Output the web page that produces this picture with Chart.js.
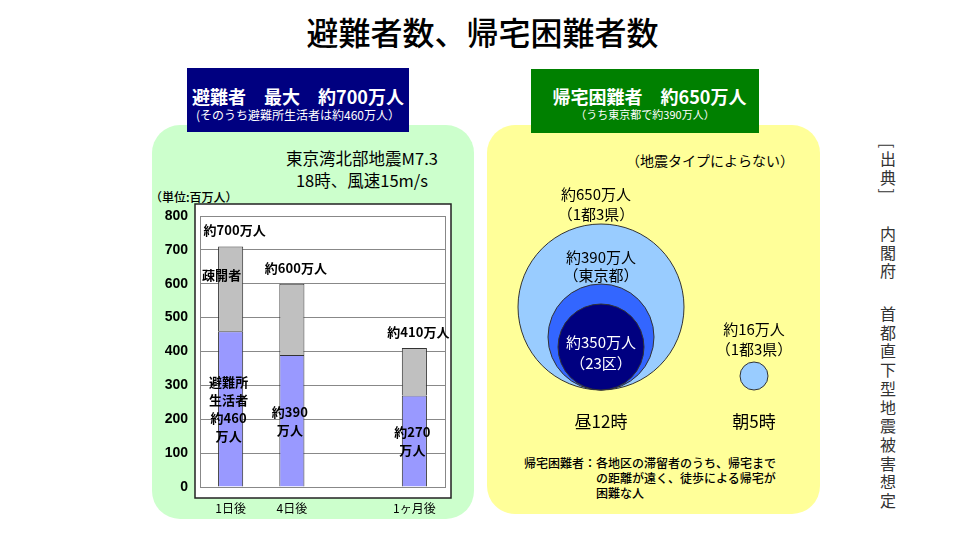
<!DOCTYPE html>
<html lang="ja">
<head>
<meta charset="utf-8">
<title>避難者数、帰宅困難者数</title>
<script src="https://cdn.jsdelivr.net/npm/chart.js@4.4.1/dist/chart.umd.min.js"></script>
<style>
body { margin: 0; background: #fff; }
#slide { position: relative; width: 960px; height: 540px; overflow: hidden; font-family: "Noto Sans CJK JP", sans-serif; color: #000; }
.abs { position: absolute; white-space: nowrap; }
.panel { position: absolute; border-radius: 28px; }
.box { position: absolute; color: #fff; text-align: center; }
.vert { position: absolute; writing-mode: vertical-rl; font-size: 16px; letter-spacing: 2.7px; line-height: 1; color: #333; }
canvas { position: absolute; }
</style>
</head>
<body>
<div id="slide">
  <div class="abs" style="left:0;top:11px;width:965px;text-align:center;font-size:32px;line-height:40px;font-weight:500;">避難者数、帰宅困難者数</div>

  <div class="panel" style="left:152px;top:125px;width:322px;height:394px;background:#ccffcc;"></div>
  <div class="panel" style="left:487px;top:125px;width:333px;height:389px;background:#ffff99;"></div>

  <div class="box" style="left:187px;top:68px;width:222px;height:64px;background:#000080;">
    <div style="margin-top:17px;font-size:18px;line-height:22px;font-weight:bold;">避難者　最大　約700万人</div>
    <div style="font-size:12px;line-height:15px;">(そのうち避難所生活者は約460万人）</div>
  </div>
  <div class="box" style="left:531px;top:69px;width:228px;height:64px;background:#008000;">
    <div style="margin-top:16px;padding-left:9px;font-size:18px;line-height:22px;font-weight:bold;">帰宅困難者　約650万人</div>
    <div style="font-size:11px;line-height:15px;">（うち東京都で約390万人）</div>
  </div>

  <div class="abs" style="left:262px;top:147px;width:200px;text-align:center;font-size:16.5px;line-height:22px;">東京湾北部地震M7.3<br>18時、風速15m/s</div>
  <div class="abs" style="left:150px;top:189px;font-size:12px;line-height:16px;font-weight:500;">（単位:百万人）</div>

  <div class="abs" style="left:610px;top:150px;width:200px;text-align:center;font-size:14px;line-height:20px;">（地震タイプによらない）</div>
  <div class="abs" style="left:524px;top:455px;font-size:12px;line-height:15px;font-weight:500;">帰宅困難者：各地区の滞留者のうち、帰宅まで<br><span style="padding-left:72px">の距離が遠く、徒歩による帰宅が</span><br><span style="padding-left:72px">困難な人</span></div>

  <div class="vert" style="left:880px;top:143px;">[出典]</div>
  <div class="vert" style="left:880px;top:226px;">内閣府</div>
  <div class="vert" style="left:880px;top:306px;">首都直下型地震被害想定</div>

  <canvas id="barChart" width="321" height="330" style="left:152px;top:190px;"></canvas>
  <canvas id="bubbleChart" width="380" height="470" style="left:487px;top:45px;"></canvas>
</div>

<script>
// 避難者 (百万人単位の目盛、値は万人)
const periods = ['1日後', '4日後', '', '1ヶ月後'];
const shelterLiving = [460, 390, null, 270];
const evacuated = [250, 210, null, 140];
const totalLabels = ['約700万人', '約600万人', '', '約410万人'];
const shelterLabels = [['避難所', '生活者', '約460', '万人'], ['約390', '万人'], [], ['約270', '万人']];
const evacLabels = ['疎開者', '', '', ''];

// 帰宅困難者
const timeSlots = ['昼12時', '朝5時'];
const stranded = [650, 390, 350, 16];
const strandedTime = ['昼12時', '昼12時', '昼12時', '朝5時'];
const bubbleR = [83, 53, 43, 14];
const strandedLabels = [['約650万人', '（1都3県）'], ['約390万人', '（東京都）'], ['約350万人', '（23区）'], ['約16万人', '（1都3県）']];

const jp = '"Noto Sans CJK JP", sans-serif';

const framePlugin = {
    id: 'frame',
    beforeDraw(chart) {
        const { ctx, chartArea: a } = chart;
        ctx.save();
        ctx.fillStyle = '#fff';
        ctx.fillRect(a.left - 5, a.top - 12, a.width + 11, a.height + 23);
        ctx.strokeStyle = '#222';
        ctx.lineWidth = 1.5;
        ctx.strokeRect(a.left - 5, a.top - 12, a.width + 11, a.height + 23);
        ctx.restore();
    },
    beforeDatasetsDraw(chart) {
        const { ctx, chartArea: a } = chart;
        ctx.save();
        ctx.strokeStyle = '#888';
        ctx.lineWidth = 1;
        ctx.strokeRect(a.left + 0.5, a.top + 0.5, a.width, a.height);
        ctx.restore();
    }
};

const barLabelPlugin = {
    id: 'barLabels',
    afterDatasetsDraw(chart) {
        const ctx = chart.ctx;
        const low = chart.getDatasetMeta(0).data;
        const high = chart.getDatasetMeta(1).data;
        ctx.save();
        ctx.font = 'bold 13px ' + jp;
        ctx.fillStyle = '#000';
        ctx.textAlign = 'center';
        ctx.textBaseline = 'middle';
        periods.forEach((p, i) => {
            if (shelterLiving[i] == null) return;
            const b = low[i], t = high[i];
            ctx.fillText(totalLabels[i], t.x + 4, t.y - 16);
            if (evacLabels[i]) ctx.fillText(evacLabels[i], t.x - 9, t.y + 29);
            const lines = shelterLabels[i];
            const mid = (b.y + b.base) / 2;
            lines.forEach((s, k) => {
                ctx.fillText(s, b.x - 2, mid + (k - (lines.length - 1) / 2) * 18);
            });
        });
        ctx.restore();
    }
};

const circleLabelPlugin = {
    id: 'circleLabels',
    afterDatasetsDraw(chart) {
        const ctx = chart.ctx;
        const pts = chart.getDatasetMeta(0).data;
        const offs = [[-30, -10], [-27, -9], [-5, 16], [-33, -13]];
        ctx.save();
        ctx.font = '15px ' + jp;
        ctx.textAlign = 'center';
        ctx.textBaseline = 'middle';
        pts.forEach((el, i) => {
            const inside = i === 2;
            const ref = inside ? el.y : el.y - bubbleR[i];
            ctx.fillStyle = inside ? '#fff' : '#000';
            strandedLabels[i].forEach((s, k) => ctx.fillText(s, el.x + (i === 0 ? -5 : 0), ref + offs[i][k]));
        });
        ctx.restore();
    }
};

new Chart(document.getElementById('barChart'), {
    type: 'bar',
    data: {
        labels: periods,
        datasets: [
            { label: '避難所生活者', data: shelterLiving, backgroundColor: '#9999ff', borderColor: '#333', borderWidth: 1, barPercentage: 0.82, categoryPercentage: 0.5 },
            { label: '疎開者', data: evacuated, backgroundColor: '#c0c0c0', borderColor: '#333', borderWidth: 1, barPercentage: 0.82, categoryPercentage: 0.5 }
        ]
    },
    options: {
        responsive: false, animation: false, events: [],
        layout: { padding: { left: 8, right: 28, top: 26, bottom: 1 } },
        plugins: { legend: { display: false }, tooltip: { enabled: false } },
        scales: {
            x: {
                stacked: true,
                grid: { display: false, drawTicks: false },
                border: { display: true, color: '#888' },
                ticks: { padding: 14, color: '#000', font: { size: 12, family: jp } },
                afterFit(s) { s.height = 32; }
            },
            y: {
                stacked: true, min: 0, max: 800,
                grid: { color: '#888', drawTicks: false },
                border: { color: '#888' },
                ticks: { stepSize: 100, padding: 12, color: '#000', font: { size: 14, weight: 'bold', family: '"Liberation Sans", sans-serif' } },
                afterFit(s) { s.width = 40; }
            }
        }
    },
    plugins: [framePlugin, barLabelPlugin]
});

new Chart(document.getElementById('bubbleChart'), {
    type: 'bubble',
    data: {
        labels: timeSlots,
        datasets: [{
            data: stranded.map((v, i) => ({ x: strandedTime[i], y: bubbleR[i], r: bubbleR[i] })),
            backgroundColor: ['#99ccff', '#3366ff', '#000080', '#99ccff'],
            borderColor: '#333',
            borderWidth: 1,
            clip: false
        }]
    },
    options: {
        responsive: false, animation: false, events: [],
        layout: { padding: { left: 114, right: 113, top: 100, bottom: 80 } },
        plugins: { legend: { display: false }, tooltip: { enabled: false } },
        scales: {
            x: {
                type: 'category', offset: false,
                grid: { display: false, drawTicks: false },
                border: { display: false },
                ticks: { padding: 21, color: '#000', font: { size: 17, family: jp } },
                afterFit(s) { s.height = 45; }
            },
            y: { display: false, min: 0, max: 245 }
        }
    },
    plugins: [circleLabelPlugin]
});
</script>
</body>
</html>
